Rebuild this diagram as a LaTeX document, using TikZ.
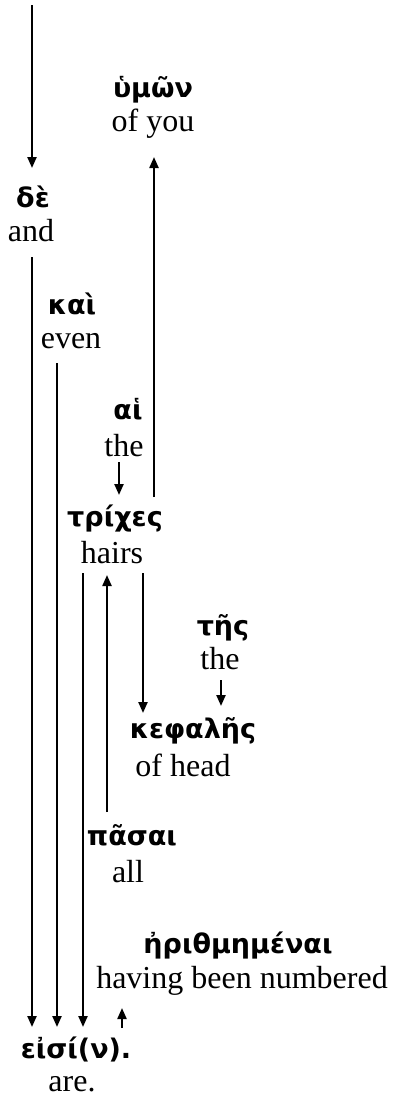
\documentclass[tikz,border=0pt]{standalone}
\usepackage{fontspec}
\setmainfont{Liberation Serif}
\newfontfamily\grk{DejaVu Sans}
\usetikzlibrary{arrows.meta,calc}
\begin{document}
\begin{tikzpicture}[x=1pt,y=-1pt,
  gk/.style={anchor=base,inner sep=0pt,font=\grk\bfseries\fontsize{27}{32}\selectfont},
  en/.style={anchor=base,inner sep=0pt,font=\fontsize{32}{37}\selectfont},
  conn/.style={line width=2.2pt},
  arr/.style={conn,-{Triangle[length=11pt,width=9pt]}}]
\useasboundingbox (0,0) rectangle (392,1103);
% words
\node[gk] (humon-g) at (153,97) {ὑμῶν};
\node[en] (humon-e) at (153,131) {of you};
\node[gk] (de-g) at (33,207) {δὲ};
\node[en] (de-e) at (31,241) {and};
\node[gk] (kai-g) at (72,314) {καὶ};
\node[en] (kai-e) at (71,348) {even};
\node[gk] (hai-g) at (128,419) {αἱ};
\node[en] (hai-e) at (124,456) {the};
\node[gk] (trix-g) at (115,526) {τρίχες};
\node[en] (trix-e) at (112,563) {hairs};
\node[gk] (tes-g) at (223,635) {τῆς};
\node[en] (tes-e) at (220,669) {the};
\node[gk] (kef-g) at (193,738) {κεφαλῆς};
\node[en] (kef-e) at (183,776) {of head};
\node[gk] (pas-g) at (132,845) {πᾶσαι};
\node[en] (pas-e) at (128,882) {all};
\node[gk] (erith-g) at (238,953) {ἠριθμημέναι};
\node[en] (erith-e) at (242,988) {having been numbered};
\node[gk] (eisi-g) at (76,1058) {εἰσί(ν).};
\node[en] (eisi-e) at (72,1091) {are.};
% connectors
\coordinate (topend) at (32,5);
\draw[arr] (topend) -- ($(de-g.base -| topend)+(0,-39)$);
\draw[arr] ($(de-e.base -| topend)+(0,16)$) -- ($(eisi-g.base -| topend)+(0,-31)$);
\draw[arr] ($(kai-e.base -| 57,0)+(0,15)$) -- ($(eisi-g.base -| 57,0)+(0,-31)$);
\draw[arr] ($(trix-e.base -| 83,0)+(0,10)$) -- ($(eisi-g.base -| 83,0)+(0,-31)$);
\draw[arr] ($(trix-g.base -| 154,0)+(0,-29)$) -- ($(humon-e.base -| 154,0)+(0,26)$);
\draw[arr] ($(hai-e.base -| 119,0)+(0,6)$) -- ($(trix-g.base -| 119,0)+(0,-31)$);
\draw[arr] ($(trix-e.base -| 143,0)+(0,10)$) -- ($(kef-g.base -| 143,0)+(0,-25)$);
\draw[arr] ($(tes-e.base -| 221,0)+(0,11)$) -- ($(kef-g.base -| 221,0)+(0,-32)$);
\draw[arr] ($(pas-g.base -| 107,0)+(0,-33)$) -- ($(trix-e.base -| 107,0)+(0,12)$);
\draw[arr] ($(eisi-g.base -| 122,0)+(0,-30)$) -- ($(erith-e.base -| 122,0)+(0,20)$);
\end{tikzpicture}
\end{document}
